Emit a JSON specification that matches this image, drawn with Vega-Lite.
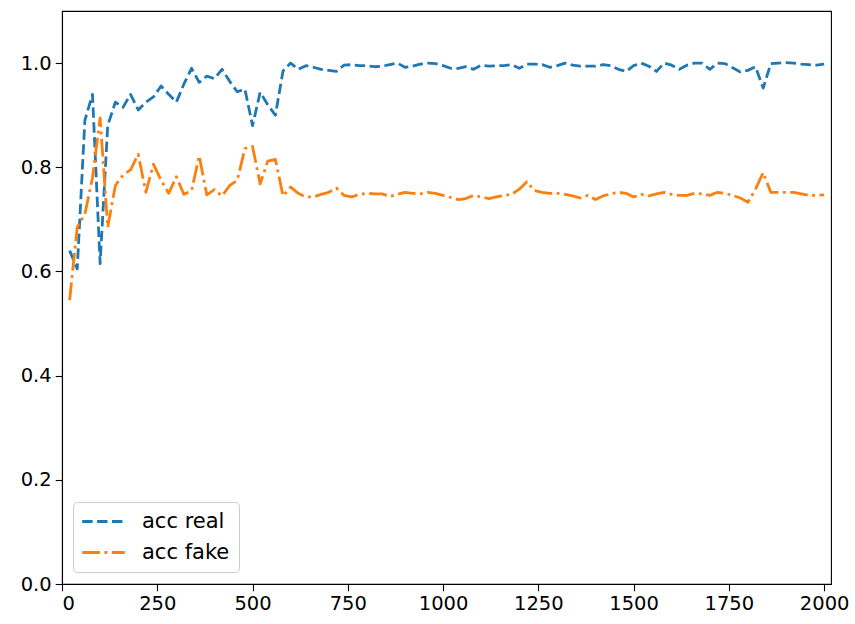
{
  "$schema": "https://vega.github.io/schema/vega-lite/v6.json",
  "width": 769,
  "height": 573,
  "autosize": {"type": "none"},
  "padding": {"left": 62, "top": 11, "right": 24, "bottom": 40},
  "background": "white",
  "config": {
    "view": {"stroke": "black", "strokeWidth": 1.1},
    "font": "DejaVu Sans",
    "axis": {
      "grid": false,
      "domainColor": "black",
      "domainWidth": 1.1,
      "tickColor": "black",
      "tickWidth": 1.1,
      "tickSize": 6.8,
      "labelFont": "DejaVu Sans",
      "labelFontSize": 19.5,
      "labelColor": "black",
      "labelPadding": 4,
      "title": null
    }
  },
  "data": {
    "values": [
      {"step": 20, "acc real": 0.64, "acc fake": 0.545},
      {"step": 40, "acc real": 0.605, "acc fake": 0.685},
      {"step": 60, "acc real": 0.89, "acc fake": 0.71},
      {"step": 80, "acc real": 0.94, "acc fake": 0.78},
      {"step": 100, "acc real": 0.615, "acc fake": 0.895},
      {"step": 120, "acc real": 0.88, "acc fake": 0.685},
      {"step": 140, "acc real": 0.925, "acc fake": 0.765},
      {"step": 160, "acc real": 0.915, "acc fake": 0.785},
      {"step": 180, "acc real": 0.94, "acc fake": 0.795},
      {"step": 200, "acc real": 0.91, "acc fake": 0.825},
      {"step": 220, "acc real": 0.925, "acc fake": 0.752},
      {"step": 240, "acc real": 0.935, "acc fake": 0.806},
      {"step": 260, "acc real": 0.956, "acc fake": 0.775},
      {"step": 280, "acc real": 0.94, "acc fake": 0.75},
      {"step": 300, "acc real": 0.925, "acc fake": 0.782},
      {"step": 320, "acc real": 0.96, "acc fake": 0.748},
      {"step": 340, "acc real": 0.99, "acc fake": 0.755},
      {"step": 360, "acc real": 0.963, "acc fake": 0.822},
      {"step": 380, "acc real": 0.975, "acc fake": 0.747},
      {"step": 400, "acc real": 0.97, "acc fake": 0.757},
      {"step": 420, "acc real": 0.988, "acc fake": 0.745},
      {"step": 440, "acc real": 0.965, "acc fake": 0.765},
      {"step": 460, "acc real": 0.945, "acc fake": 0.775},
      {"step": 480, "acc real": 0.95, "acc fake": 0.836},
      {"step": 500, "acc real": 0.88, "acc fake": 0.84},
      {"step": 520, "acc real": 0.944, "acc fake": 0.768},
      {"step": 540, "acc real": 0.92, "acc fake": 0.812},
      {"step": 560, "acc real": 0.9, "acc fake": 0.815},
      {"step": 580, "acc real": 0.985, "acc fake": 0.745},
      {"step": 600, "acc real": 1.0, "acc fake": 0.762},
      {"step": 620, "acc real": 0.988, "acc fake": 0.75},
      {"step": 640, "acc real": 0.995, "acc fake": 0.743},
      {"step": 660, "acc real": 0.992, "acc fake": 0.743},
      {"step": 680, "acc real": 0.988, "acc fake": 0.748},
      {"step": 700, "acc real": 0.986, "acc fake": 0.752},
      {"step": 720, "acc real": 0.984, "acc fake": 0.76},
      {"step": 740, "acc real": 0.996, "acc fake": 0.746},
      {"step": 760, "acc real": 0.997, "acc fake": 0.743},
      {"step": 780, "acc real": 0.995, "acc fake": 0.748},
      {"step": 800, "acc real": 0.995, "acc fake": 0.75},
      {"step": 820, "acc real": 0.993, "acc fake": 0.749},
      {"step": 840, "acc real": 0.994, "acc fake": 0.749},
      {"step": 860, "acc real": 0.997, "acc fake": 0.744},
      {"step": 880, "acc real": 1.0, "acc fake": 0.748},
      {"step": 900, "acc real": 0.992, "acc fake": 0.752},
      {"step": 920, "acc real": 0.994, "acc fake": 0.75},
      {"step": 940, "acc real": 0.998, "acc fake": 0.749},
      {"step": 960, "acc real": 1.0, "acc fake": 0.752},
      {"step": 980, "acc real": 0.999, "acc fake": 0.75},
      {"step": 1000, "acc real": 0.995, "acc fake": 0.746},
      {"step": 1020, "acc real": 0.99, "acc fake": 0.742},
      {"step": 1040, "acc real": 0.99, "acc fake": 0.738},
      {"step": 1060, "acc real": 0.993, "acc fake": 0.74},
      {"step": 1080, "acc real": 0.988, "acc fake": 0.746},
      {"step": 1100, "acc real": 0.996, "acc fake": 0.743},
      {"step": 1120, "acc real": 0.994, "acc fake": 0.74},
      {"step": 1140, "acc real": 0.995, "acc fake": 0.743},
      {"step": 1160, "acc real": 0.995, "acc fake": 0.746},
      {"step": 1180, "acc real": 0.997, "acc fake": 0.748},
      {"step": 1200, "acc real": 0.99, "acc fake": 0.758},
      {"step": 1220, "acc real": 0.998, "acc fake": 0.772},
      {"step": 1240, "acc real": 0.998, "acc fake": 0.755},
      {"step": 1260, "acc real": 0.997, "acc fake": 0.752},
      {"step": 1280, "acc real": 0.992, "acc fake": 0.75},
      {"step": 1300, "acc real": 0.995, "acc fake": 0.75},
      {"step": 1320, "acc real": 1.0, "acc fake": 0.748},
      {"step": 1340, "acc real": 0.996, "acc fake": 0.745},
      {"step": 1360, "acc real": 0.994, "acc fake": 0.741},
      {"step": 1380, "acc real": 0.994, "acc fake": 0.746},
      {"step": 1400, "acc real": 0.994, "acc fake": 0.738},
      {"step": 1420, "acc real": 0.997, "acc fake": 0.745},
      {"step": 1440, "acc real": 0.995, "acc fake": 0.749},
      {"step": 1460, "acc real": 0.988, "acc fake": 0.752},
      {"step": 1480, "acc real": 0.984, "acc fake": 0.75},
      {"step": 1500, "acc real": 0.995, "acc fake": 0.743},
      {"step": 1520, "acc real": 1.0, "acc fake": 0.748},
      {"step": 1540, "acc real": 0.994, "acc fake": 0.745},
      {"step": 1560, "acc real": 0.984, "acc fake": 0.749},
      {"step": 1580, "acc real": 1.0, "acc fake": 0.752},
      {"step": 1600, "acc real": 0.996, "acc fake": 0.748},
      {"step": 1620, "acc real": 0.988, "acc fake": 0.746},
      {"step": 1640, "acc real": 0.996, "acc fake": 0.746},
      {"step": 1660, "acc real": 1.0, "acc fake": 0.75},
      {"step": 1680, "acc real": 1.0, "acc fake": 0.749},
      {"step": 1700, "acc real": 0.988, "acc fake": 0.746},
      {"step": 1720, "acc real": 1.0, "acc fake": 0.752},
      {"step": 1740, "acc real": 0.999, "acc fake": 0.75},
      {"step": 1760, "acc real": 0.991, "acc fake": 0.746},
      {"step": 1780, "acc real": 0.983, "acc fake": 0.741},
      {"step": 1800, "acc real": 0.986, "acc fake": 0.733},
      {"step": 1820, "acc real": 0.993, "acc fake": 0.758},
      {"step": 1840, "acc real": 0.952, "acc fake": 0.79},
      {"step": 1860, "acc real": 0.999, "acc fake": 0.752},
      {"step": 1880, "acc real": 1.0, "acc fake": 0.752},
      {"step": 1900, "acc real": 1.001, "acc fake": 0.752},
      {"step": 1920, "acc real": 1.0, "acc fake": 0.752},
      {"step": 1940, "acc real": 0.998, "acc fake": 0.749},
      {"step": 1960, "acc real": 0.997, "acc fake": 0.746},
      {"step": 1980, "acc real": 0.996, "acc fake": 0.746},
      {"step": 2000, "acc real": 0.998, "acc fake": 0.747}
    ]
  },
  "transform": [
    {"fold": ["acc real", "acc fake"], "as": ["series", "value"]}
  ],
  "mark": {"type": "line", "strokeWidth": 2.8, "strokeCap": "butt", "strokeJoin": "round", "clip": true},
  "encoding": {
    "x": {
      "field": "step",
      "type": "quantitative",
      "scale": {"domain": [0, 2018], "nice": false, "zero": false},
      "axis": {"values": [0, 250, 500, 750, 1000, 1250, 1500, 1750, 2000], "format": "d"}
    },
    "y": {
      "field": "value",
      "type": "quantitative",
      "scale": {"domain": [0, 1.1], "nice": false},
      "axis": {"values": [0, 0.2, 0.4, 0.6, 0.8, 1.0], "format": ".1f"}
    },
    "color": {
      "field": "series",
      "type": "nominal",
      "scale": {"domain": ["acc real", "acc fake"], "range": ["#1f77b4", "#ff7f0e"]},
      "legend": {
        "title": null,
        "orient": "none",
        "legendX": 11,
        "legendY": 491,
        "symbolType": "M-3,0H3",
        "symbolSize": 201.6,
        "symbolStrokeWidth": 2.8,
        "symbolOffset": 11,
        "labelFont": "DejaVu Sans",
        "labelFontSize": 21,
        "labelColor": "black",
        "labelOffset": 28,
        "padding": 9,
        "rowPadding": 9,
        "fillColor": "white",
        "strokeColor": "#cccccc",
        "cornerRadius": 4
      }
    },
    "strokeDash": {
      "field": "series",
      "type": "nominal",
      "scale": {"domain": ["acc real", "acc fake"], "range": [[10.4, 4.5], [17.8, 4.5, 2.8, 4.5]]},
      "legend": null
    }
  }
}
